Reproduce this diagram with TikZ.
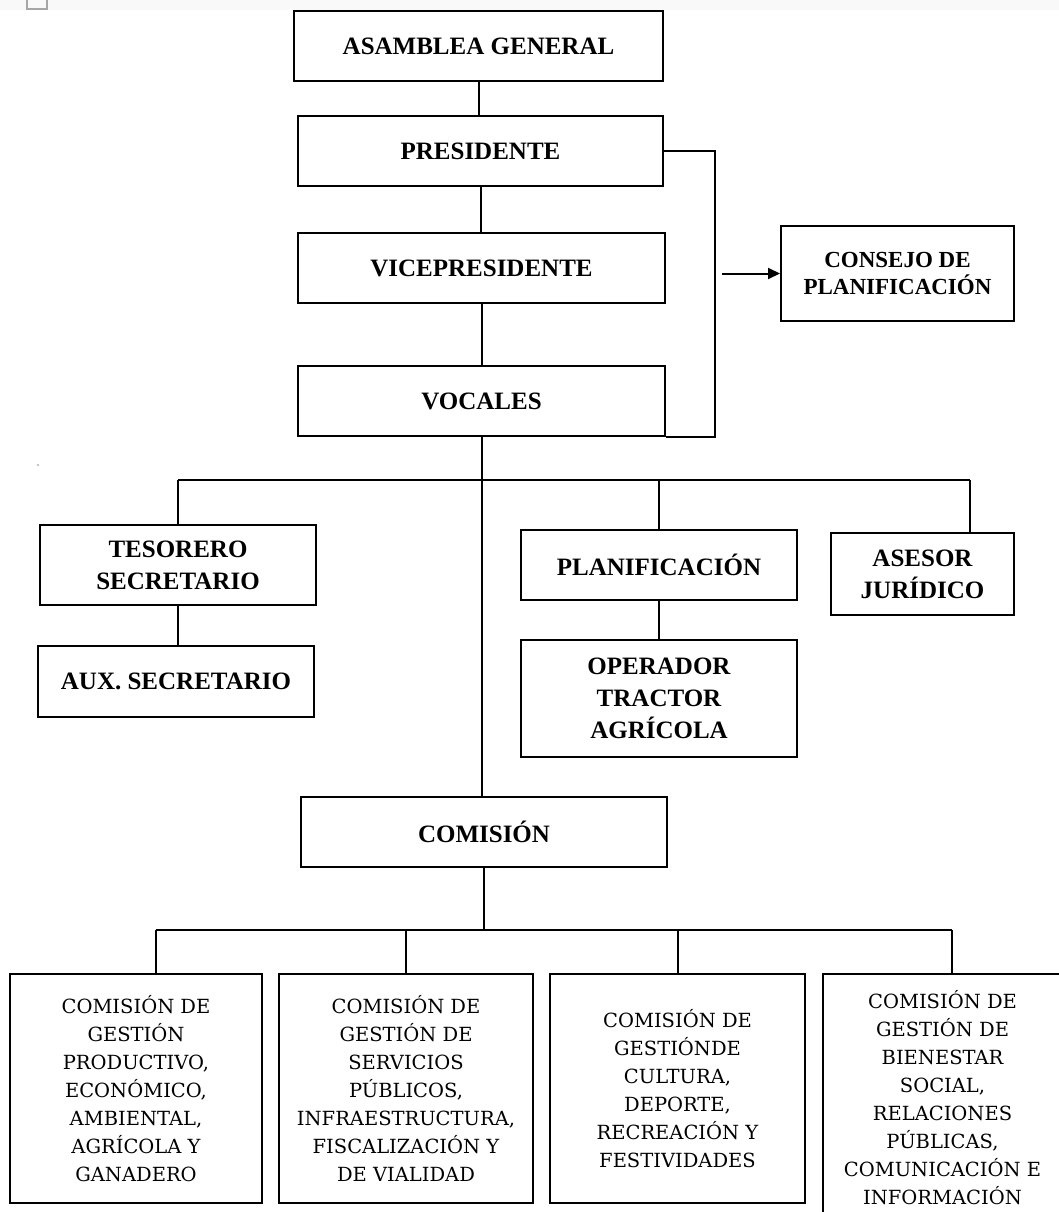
\documentclass[tikz,border=0pt]{standalone}
\usepackage{fontspec}
\setmainfont{Liberation Serif}
\newfontfamily\slabfont{DejaVu Serif}
\usetikzlibrary{arrows.meta}

\tikzset{
  orgbox/.style={draw, line width=2pt, inner sep=0pt, align=center,
    font=\bfseries\fontsize{25}{32}\selectfont},
  smallbox/.style={orgbox, font=\bfseries\fontsize{23}{27}\selectfont},
  combox/.style={draw, line width=2pt, inner sep=0pt, align=center,
    font=\slabfont\fontsize{19.5}{28}\selectfont},
  link/.style={line width=2pt},
  graymark/.style={gray!70, line width=1.2pt}
}

\begin{document}
\begin{tikzpicture}[x=1pt, y=1pt]
\useasboundingbox (0,0) rectangle (1059,-1212);
\clip (0,0) rectangle (1059,-1212);
\fill[white] (0,0) rectangle (1059,-1212);
\fill[gray!5] (0,0) rectangle (1059,-10);

% small marks
\draw[graymark] (27,0) -- (27,-9) -- (47,-9) -- (47,0);
\fill[gray!60] (38,-465) circle (1.2);

% upper chain
\node[orgbox, minimum width=369pt, minimum height=70pt] (asamblea) at (478.5,-46) {ASAMBLEA GENERAL};
\node[orgbox, minimum width=365pt, minimum height=70pt] (presidente) at (480.5,-151) {PRESIDENTE};
\node[orgbox, minimum width=367pt, minimum height=70pt] (vice) at (481.5,-268) {VICEPRESIDENTE};
\node[orgbox, minimum width=367pt, minimum height=70pt] (vocales) at (481.5,-401) {VOCALES};
\node[smallbox, minimum width=233pt, minimum height=95pt] (consejo) at (897.5,-273.5) {CONSEJO DE\\PLANIFICACIÓN};

% middle level
\node[orgbox, minimum width=276pt, minimum height=80pt] (tesorero) at (178,-565) {TESORERO\\SECRETARIO};
\node[orgbox, minimum width=276pt, minimum height=71pt] (aux) at (176,-681.5) {AUX. SECRETARIO};
\node[orgbox, minimum width=276pt, minimum height=70pt] (planif) at (659,-565) {PLANIFICACIÓN};
\node[orgbox, minimum width=276pt, minimum height=117pt] (operador) at (659,-698.5) {OPERADOR\\TRACTOR\\AGRÍCOLA};
\node[orgbox, minimum width=183pt, minimum height=82pt] (asesor) at (922.5,-574) {ASESOR\\JURÍDICO};
\node[orgbox, minimum width=366pt, minimum height=70pt] (comision) at (484,-832) {COMISIÓN};

% commissions
\node[combox, minimum width=252pt, minimum height=229pt] (com1) at (136,-1088.5)
  {COMISIÓN DE\\GESTIÓN\\PRODUCTIVO,\\ECONÓMICO,\\AMBIENTAL,\\AGRÍCOLA Y\\GANADERO};
\node[combox, minimum width=254pt, minimum height=229pt] (com2) at (406,-1088.5)
  {COMISIÓN DE\\GESTIÓN DE\\SERVICIOS\\PÚBLICOS,\\INFRAESTRUCTURA,\\FISCALIZACIÓN Y\\DE VIALIDAD};
\node[combox, minimum width=255pt, minimum height=229pt] (com3) at (677.5,-1088.5)
  {COMISIÓN DE\\GESTIÓNDE\\CULTURA,\\DEPORTE,\\RECREACIÓN Y\\FESTIVIDADES};
\node[combox, minimum width=239pt, minimum height=248pt] (com4) at (942.5,-1098)
  {COMISIÓN DE\\GESTIÓN DE\\BIENESTAR\\SOCIAL,\\RELACIONES\\PÚBLICAS,\\COMUNICACIÓN E\\INFORMACIÓN};

% junction points
\coordinate (loopTop) at (715,-151);
\coordinate (arrowStart) at (722,-273.5);
\coordinate (busL) at (178,-480);
\coordinate (busR) at (970,-480);
\coordinate (busBL) at (156,-930);
\coordinate (busBR) at (952,-930);

% vertical chain
\draw[link] (asamblea.south) -- (asamblea.south |- presidente.north);
\draw[link] (presidente.south) -- (presidente.south |- vice.north);
\draw[link] (vice.south) -- (vice.south |- vocales.north);
\draw[link] (vocales.south) -- (vocales.south |- comision.north);

% side loop and arrow to the council
\draw[link] (presidente.east) -- (loopTop) |- (vocales.south east);
\draw[link, -{Triangle[length=12pt, width=11pt]}] (arrowStart) -- (consejo.west);

% middle bus
\draw[link] (busL) -- (busR);
\draw[link] (busL) -- (tesorero.north);
\draw[link] (planif.north |- busL) -- (planif.north);
\draw[link] (busR) -- (busR |- asesor.north);
\draw[link] (tesorero.south) -- (aux.north -| tesorero.south);
\draw[link] (planif.south) -- (operador.north);

% lower bus
\draw[link] (comision.south) -- (comision.south |- busBL);
\draw[link] (busBL) -- (busBR);
\draw[link] (busBL) -- (busBL |- com1.north);
\draw[link] (com2.north |- busBL) -- (com2.north);
\draw[link] (com3.north |- busBL) -- (com3.north);
\draw[link] (busBR) -- (busBR |- com4.north);
\end{tikzpicture}
\end{document}
